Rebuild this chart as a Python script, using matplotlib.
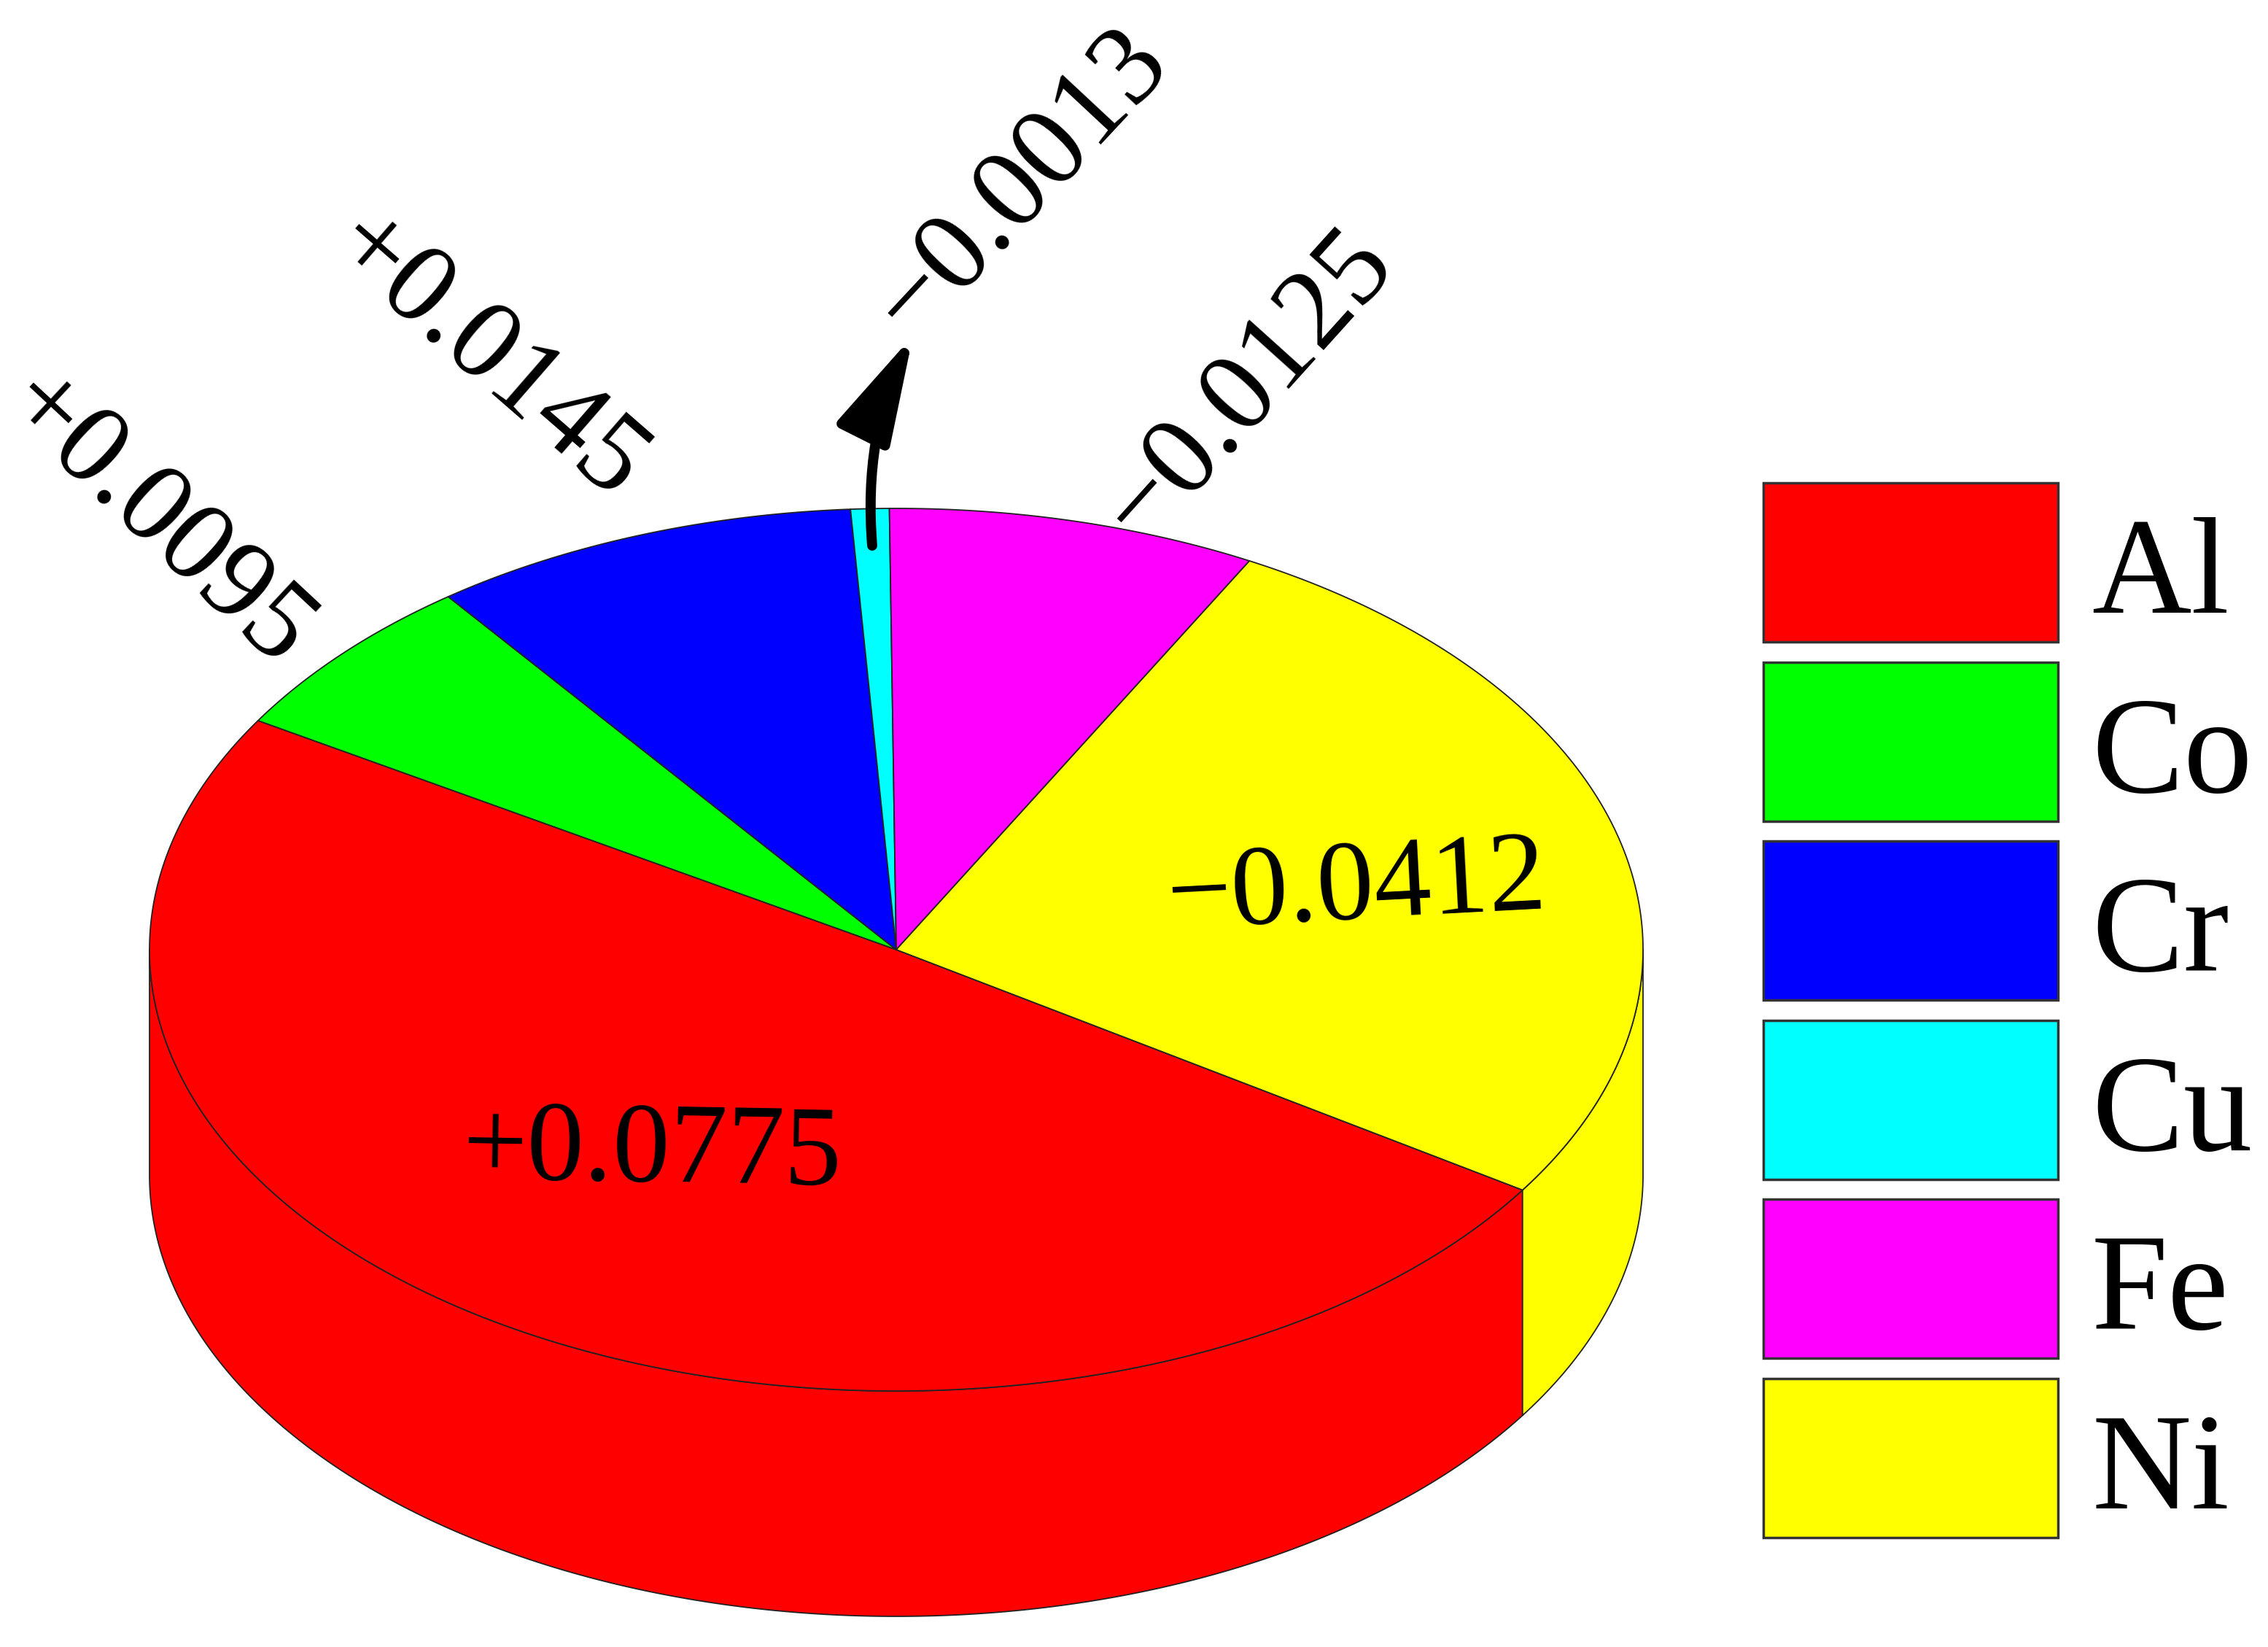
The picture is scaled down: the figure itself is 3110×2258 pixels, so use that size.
import numpy as np
import matplotlib, matplotlib.pyplot as plt
from matplotlib.patches import Polygon, Rectangle, FancyArrowPatch

matplotlib.use('agg')

plt.rcParams['font.family'] = ['Liberation Serif', 'DejaVu Serif']

# elements and their charge values, clockwise from the red slice
elements = ['Al', 'Co', 'Cr', 'Cu', 'Fe', 'Ni']
charges = [0.0775, 0.0095, 0.0145, -0.0013, -0.0125, -0.0412]
colors = ['#ff0000', '#00ff00', '#0000ff', '#00ffff', '#ff00ff', '#ffff00']

# where each value label goes (x, y, rotation), in pixels of the figure
label_pos = [(894, 1582, -1), (215, 714, -43), (668, 490, -41),
             (1400, 252, 47), (1711, 530, 48), (1860, 1220, 3)]

# geometry of the pie, in pixels
cx, cy = 1229, 1302
rx, ry = 1024, 605
depth = 309
start_angle = -33

fig = plt.figure(figsize=(31.10, 22.58), dpi=100)
ax = fig.add_axes([0, 0, 1, 1])
ax.set_xlim(0, 3110)
ax.set_ylim(2258, 0)
ax.axis('off')


def rim(a, b, dy=0):
    t = np.radians(np.linspace(a, b, 300))
    return np.column_stack([cx + rx*np.cos(t), cy - ry*np.sin(t) + dy])


# slice angles come from the absolute values, going clockwise
fractions = np.abs(charges)/np.abs(charges).sum()
edges = start_angle - 360*np.concatenate([[0], np.cumsum(fractions)])

edge_kw = dict(edgecolor='#222222', linewidth=1.3, joinstyle='round')

# the side wall: only the front half of the rim can be seen
for i in range(len(elements)):
    for shift in (0, 360):
        a = min(edges[i] + shift, 0)
        b = max(edges[i+1] + shift, -180)
        if a > b:
            top = rim(a, b)
            bottom = rim(b, a, depth)
            ax.add_patch(Polygon(np.vstack([top, bottom]), facecolor=colors[i], **edge_kw))

# the top face
for i in range(len(elements)):
    pts = np.vstack([[[cx, cy]], rim(edges[i], edges[i+1])])
    ax.add_patch(Polygon(pts, facecolor=colors[i], **edge_kw))

# value labels
for v, (x, y, rot) in zip(charges, label_pos):
    txt = f'{v:+.4f}'.replace('-', '\u2212')
    ax.text(x, y, txt, fontsize=113, rotation=rot, rotation_mode='anchor',
            ha='center', va='center', color='black')

# arrow pointing from the Cu slice to its label
ax.add_patch(FancyArrowPatch((1196, 748), (1252, 460), connectionstyle='arc3,rad=-0.14',
                             arrowstyle='-|>,head_length=0.9,head_width=0.24', mutation_scale=100,
                             linewidth=10, color='black', shrinkA=0, shrinkB=0))

# legend
box_top = 662
box_step = 245.6
for i, name in enumerate(elements):
    y = box_top + i*box_step
    ax.add_patch(Rectangle((2418, y), 404, 218, facecolor=colors[i], edgecolor='#333333', linewidth=2.5))
    ax.text(2868, y + 178, name, fontsize=136, ha='left', va='baseline', color='black')

plt.savefig('out.png', dpi=100)
plt.close('all')
